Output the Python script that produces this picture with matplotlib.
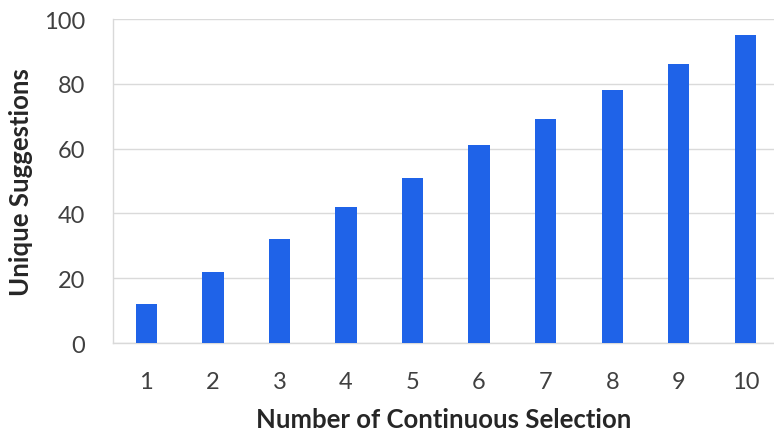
import matplotlib.pyplot as plt

selections = [1, 2, 3, 4, 5, 6, 7, 8, 9, 10]
suggestions = [12, 22, 32, 42, 51, 61, 69, 78, 86, 95]
yticks = [0, 20, 40, 60, 80, 100]

plt.rcParams['font.family'] = ['Lato', 'DejaVu Sans']

fig = plt.figure(figsize=(7.74, 4.35), dpi=100)
ax = fig.add_axes([0.146, 0.209, 0.854, 0.745])

ax.bar(selections, suggestions, width=0.32, color='#1f63e8', zorder=3)

ax.set_xlim(0.5, 10.43)
ax.set_ylim(0, 100)
ax.set_yticks(yticks)
ax.set_xticks(selections)
ax.grid(axis='y', color='#dadada', linewidth=1, zorder=0)
for s in ['top', 'right']:
    ax.spines[s].set_visible(False)
for s in ['left', 'bottom']:
    ax.spines[s].set_color('#d9d9d9')
    ax.spines[s].set_linewidth(1)
ax.tick_params(axis='both', length=0, labelsize=17, labelcolor='#404040')
ax.tick_params(axis='y', pad=20)
ax.tick_params(axis='x', pad=20)

ax.set_xlabel('Number of Continuous Selection', fontsize=18.5, fontweight='bold',
              color='#262626', labelpad=11)
ax.set_ylabel('Unique Suggestions', fontsize=18.5, fontweight='bold',
              color='#262626', labelpad=8)

fig.savefig('out.png', dpi=100)
